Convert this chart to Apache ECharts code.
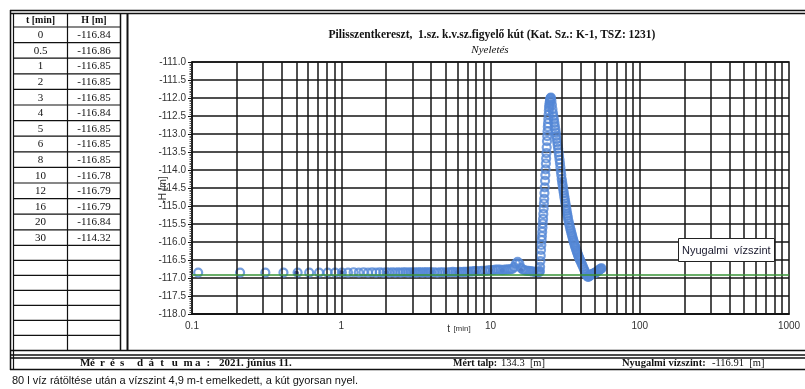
<!DOCTYPE html>
<html><head><meta charset="utf-8">
<script src="https://cdn.jsdelivr.net/npm/echarts@6/dist/echarts.min.js"></script>
<style>html,body{margin:0;padding:0;background:#fff}#c{width:805px;height:389px}</style>
</head><body><div id="c"></div>
<script>
// ---- data ----
const tableT = ['0','0.5','1','2','3','4','5','6','8','10','12','16','20','30'];
const tableH = ['-116.84','-116.86','-116.85','-116.85','-116.85','-116.84','-116.85','-116.85','-116.85','-116.78','-116.79','-116.79','-116.84','-114.32'];
const manualPoints = [[0.5,-116.86],[1,-116.85],[2,-116.85],[3,-116.85],[4,-116.84],[5,-116.85],[6,-116.85],[8,-116.85],[10,-116.78],[12,-116.79],[16,-116.79],[20,-116.84],[30,-114.32]];
const loggerFlat = [
[0.11,-116.85],[0.21,-116.85],[0.31,-116.85],[0.41,-116.85],[0.51,-116.85],[0.61,-116.85],[0.71,-116.85],[0.81,-116.85],[0.91,-116.85],[1.01,-116.85],
[1.11,-116.85],[1.21,-116.84],[1.31,-116.85],[1.41,-116.84],[1.51,-116.85],[1.61,-116.84],[1.71,-116.85],[1.81,-116.84],[1.91,-116.85],[2.01,-116.84],
[2.1,-116.85],[2.2,-116.84],[2.3,-116.85],[2.4,-116.84],[2.5,-116.85],[2.6,-116.84],[2.7,-116.84],[2.8,-116.85],[2.9,-116.84],[3.0,-116.85],
[3.1,-116.84],[3.2,-116.85],[3.3,-116.84],[3.4,-116.84],[3.5,-116.85],[3.6,-116.84],[3.7,-116.84],[3.8,-116.85],[3.9,-116.84],[4.0,-116.84],
[4.2,-116.84],[4.4,-116.85],[4.6,-116.84],[4.8,-116.84],[5.0,-116.85],[5.2,-116.84],[5.4,-116.84],[5.6,-116.83],[5.8,-116.84],[6.0,-116.84],
[6.2,-116.83],[6.4,-116.84],[6.6,-116.83],[6.8,-116.83],[7.0,-116.83],[7.2,-116.82],[7.4,-116.82],[7.6,-116.82],[7.8,-116.81],[8.0,-116.81],
[8.4,-116.81],[8.8,-116.80],[9.2,-116.80],[9.6,-116.79],[10.0,-116.78],[10.4,-116.78],[10.8,-116.77],[11.2,-116.77],[11.6,-116.77],[12.0,-116.78],
[12.4,-116.77],[12.8,-116.77],[13.2,-116.76],[13.6,-116.76],[14.0,-116.75],[14.4,-116.70],[14.8,-116.60],[15.2,-116.55],[15.6,-116.60],[16.0,-116.72],
[16.5,-116.77],[17.0,-116.79],[17.5,-116.80],[18.0,-116.80],[18.5,-116.81],[19.0,-116.82],[19.5,-116.82],[20.0,-116.84],[20.5,-116.84],[21.0,-116.84],[21.3,-116.83]
];
const loggerRise = [
[21.4,-116.80],[21.5,-116.69],[21.6,-116.53],[21.7,-116.38],[21.8,-116.22],[21.9,-116.08],[22.0,-115.95],[22.1,-115.84],[22.2,-115.72],[22.3,-115.60],
[22.4,-115.48],[22.5,-115.36],[22.6,-115.22],[22.7,-115.07],[22.8,-114.93],[22.9,-114.80],[23.0,-114.64],[23.1,-114.48],[23.2,-114.30],[23.3,-114.14],
[23.4,-113.98],[23.5,-113.82],[23.6,-113.68],[23.7,-113.53],[23.8,-113.37],[23.9,-113.20],[24.0,-113.06],[24.1,-112.93],[24.2,-112.80],[24.3,-112.70],
[24.4,-112.58],[24.5,-112.46],[24.6,-112.35],[24.7,-112.26],[24.8,-112.20],[24.9,-112.14],[25.0,-112.09],[25.1,-112.05],[25.2,-112.02],[25.3,-112.00],[25.4,-111.99]
];
const loggerFall = [
[25.6,-112.08],[25.8,-112.19],[26.0,-112.31],[26.2,-112.42],[26.4,-112.51],[26.6,-112.60],[26.8,-112.69],[27.0,-112.78],[27.2,-112.87],[27.4,-112.96],
[27.6,-113.05],[27.8,-113.14],[28.0,-113.23],[28.2,-113.32],[28.4,-113.41],[28.6,-113.51],[28.8,-113.61],[29.0,-113.71],[29.2,-113.81],[29.4,-113.93],
[29.6,-114.04],[29.8,-114.14],[30.0,-114.25],[30.2,-114.33],[30.4,-114.41],[30.6,-114.49],[30.8,-114.57],[31.0,-114.64],[31.2,-114.72],[31.4,-114.79],
[31.6,-114.86],[31.8,-114.93],[32.0,-115.00],[32.2,-115.07],[32.4,-115.14],[32.6,-115.21],[32.8,-115.27],[33.0,-115.33],
[33.3,-115.41],[33.6,-115.48],[33.9,-115.55],[34.2,-115.62],[34.5,-115.68],[34.8,-115.74],[35.1,-115.80],[35.4,-115.86],[35.7,-115.92],[36.0,-115.97],
[36.3,-116.02],[36.6,-116.07],[36.9,-116.12],[37.2,-116.16],[37.5,-116.21],[37.8,-116.25],[38.1,-116.29],[38.4,-116.33],[38.7,-116.37],[39.0,-116.41],
[39.3,-116.44],[39.6,-116.48],[39.9,-116.51],
[40.5,-116.57],[41.1,-116.63],[41.7,-116.69],[42.3,-116.75],[42.9,-116.81],[43.5,-116.87],[44.1,-116.92],[44.7,-116.96],[45.3,-116.97],[45.9,-116.95],
[46.5,-116.93],[47.1,-116.91],[47.7,-116.90],[48.3,-116.89],[48.9,-116.88],[49.5,-116.87],[50.1,-116.86],[50.7,-116.85],[51.3,-116.83],[51.9,-116.82],
[52.5,-116.80],[53.1,-116.79],[53.7,-116.77],[54.3,-116.76],[54.9,-116.74],[55.5,-116.73]
];
const restLevel = -116.91;
const yMin = -118, yMax = -111, yStep = 0.5;
const xDecades = [0.1, 1, 10, 100];
const xMultipliers = [1,2,3,4,5,6,7,8,9];

// ---- build ----
const chart = echarts.init(document.getElementById('c'), null, {renderer:'canvas'});
const vLines = [];
xDecades.forEach(d => xMultipliers.forEach(m => { if (!(d===0.1 && m===1)) vLines.push({xAxis: d*m}); }));
const gridMarks = vLines.map(v => ({...v, lineStyle:{color:'#151515', width:1.5, type:'solid'}}));
gridMarks.push({yAxis: restLevel, lineStyle:{color:'#3a9439', width:1.5, type:'solid'}});

const SERIF = '"Liberation Serif","Times New Roman",serif';
const SANS = '"Liberation Sans",Arial,sans-serif';
const K = '#111';
const g = [];
function line(x1,y1,x2,y2,w){ g.push({type:'line', silent:true, shape:{x1,y1,x2,y2}, style:{stroke:K, lineWidth:w||1.2}}); }
function text(x,y,t,opt){ g.push({type:'text', silent:true, x, y, style:Object.assign({text:t, fill:'#111', font:'11px '+SERIF, textAlign:'left', textVerticalAlign:'middle'}, opt||{})}); }
function spaced(x0,step,y,str,font){ Array.from(str).forEach((ch,i)=>text(x0+step*i,y,ch,{font})); }

// frame
line(10,10.5,805,10.5,1.5); line(10,13.5,805,13.5,1.5);
line(10.5,10,10.5,370,1.5); line(13.5,13,13.5,370,1.2);
line(67.5,13,67.5,350,1.2); line(120.5,13,120.5,350,1.5);
line(127.5,13,127.5,350,2);
line(10,350.5,805,350.5,1.5);
line(10,355,805,355,1.5); line(10,358,805,358,1.5);
line(10,369.5,805,369.5,1.5);
// table rows
const rowTop = 27, rowH = 15.6;
line(13,rowTop,120,rowTop,1.2);
for (let i=0;i<tableT.length;i++){
  const y0 = rowTop + rowH*i;
  line(13,y0+rowH,120,y0+rowH,1.2);
  text(40.5,y0+rowH/2+0.5,tableT[i],{textAlign:'center', font:'11px '+SERIF});
  text(94,y0+rowH/2+0.5,tableH[i],{textAlign:'center', font:'11px '+SERIF});
}
const emptyTop = rowTop + rowH*tableT.length;
for (let j=1;j<7;j++){ line(13,emptyTop+15*j,120,emptyTop+15*j,1.2); }
text(40.5,20,'t [min]',{textAlign:'center', font:'bold 10px '+SERIF});
text(94,20,'H [m]',{textAlign:'center', font:'bold 10px '+SERIF});
// bottom row
spaced(80,10,363.5,'Mérés','bold 11px '+SERIF);
spaced(137,11.6,363.5,'dátuma:','bold 11px '+SERIF);
text(219,363.5,'2021. június 11.',{font:'bold 11px '+SERIF});
text(453,363.5,'Mért talp:',{font:'bold 10px '+SERIF});
text(501,363.5,'134.3  [m]',{font:'10.5px '+SERIF});
text(622,363.5,'Nyugalmi vízszint:',{font:'bold 10.5px '+SERIF});
text(712,363.5,'-116.91  [m]',{font:'10.5px '+SERIF});
text(12,381,'80 l víz rátöltése után a vízszint 4,9 m-t emelkedett, a kút gyorsan nyel.',{font:'11px '+SANS});
// titles
text(492,35,'Pilisszentkereszt,  1.sz. k.v.sz.figyelő kút (Kat. Sz.: K-1, TSZ: 1231)',{textAlign:'center', font:'bold 11.5px '+SERIF});
text(490,50,'Nyeletés',{textAlign:'center', font:'italic 11px '+SERIF});
// axis names
g.push({type:'text', silent:true, x:163, y:190, rotation:Math.PI/2, style:{text:'-H [m]', fill:'#333', font:'10px '+SANS, textAlign:'center', textVerticalAlign:'middle'}});
g.push({type:'text', silent:true, x:459, y:329, style:{text:'{a|t} {b|[min]}', textAlign:'center', textVerticalAlign:'middle', rich:{a:{fontSize:10, fontFamily:SANS, fill:'#333'}, b:{fontSize:8, fontFamily:SANS, fill:'#333'}}}});
// rest level label box
g.push({type:'rect', silent:true, z:100, shape:{x:678.5,y:238.5,width:96,height:23}, style:{fill:'#fff', stroke:'#222', lineWidth:1}});
g.push({type:'text', silent:true, z:101, x:682, y:250.5, style:{text:'Nyugalmi  vízszint', fill:'#1a1a2e', font:'11px '+SANS, textAlign:'left', textVerticalAlign:'middle'}});

chart.setOption({
  animation:false,
  backgroundColor:'#fff',
  grid:{left:192, top:62, width:597, height:252, show:true, borderColor:K, borderWidth:1.5, backgroundColor:'transparent'},
  xAxis:{type:'log', logBase:10, min:0.1, max:1000,
    axisLine:{show:true, onZero:false, lineStyle:{color:K, width:1.5}},
    axisTick:{show:false}, splitLine:{show:false}, minorTick:{show:false},
    axisLabel:{color:'#333', fontSize:10, fontFamily:SANS, margin:7, formatter:v=>String(v)}},
  yAxis:{type:'value', min:yMin, max:yMax, interval:yStep,
    axisLine:{show:true, lineStyle:{color:K, width:1.5}},
    axisTick:{show:true, length:4, lineStyle:{color:K, width:1}},
    minorTick:{show:true, splitNumber:10, length:2.5, lineStyle:{color:'#333', width:0.8}},
    splitLine:{show:true, lineStyle:{color:'#151515', width:1.5}},
    axisLabel:{color:'#333', fontSize:10, fontFamily:SANS, margin:6, formatter:v=>v.toFixed(1)}},
  series:[
    {type:'scatter', name:'grid', data:manualPoints, symbolSize:0, silent:true, z:1,
      markLine:{silent:true, symbol:['none','none'], label:{show:false}, data:gridMarks, animation:false}},
    {type:'scatter', name:'manual', data:manualPoints, symbol:'circle', symbolSize:5, z:2, silent:true,
      itemStyle:{color:'#16287a'}},
    {type:'scatter', name:'logger', data:loggerFlat.concat(loggerRise, loggerFall), symbol:'circle', symbolSize:8, z:3, silent:true, large:false,
      itemStyle:{color:'rgba(0,0,0,0)', borderColor:'#5487d6', borderWidth:2.2}}
  ],
  graphic:{elements:g}
});
</script></body></html>
